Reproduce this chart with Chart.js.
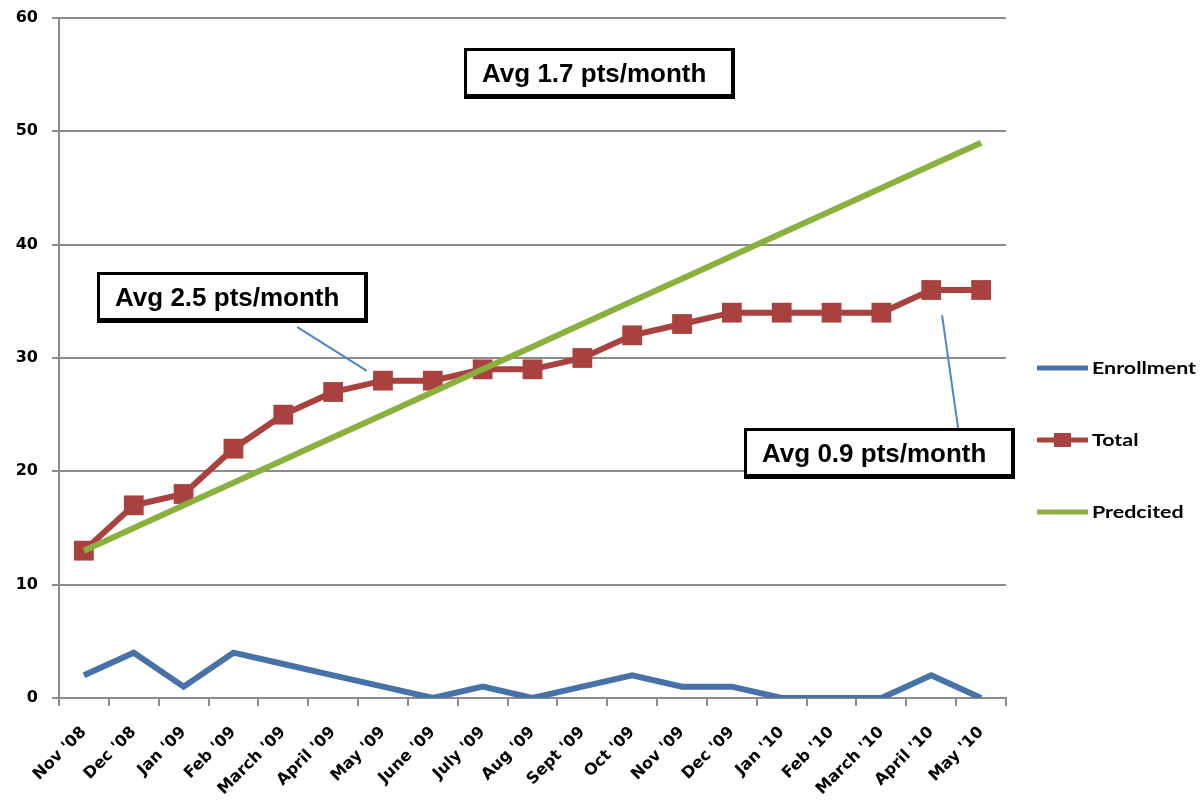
<!DOCTYPE html>
<html><head><meta charset="utf-8">
<script src="https://cdn.jsdelivr.net/npm/chart.js@4.4.1/dist/chart.umd.min.js"></script>
<style>html,body{margin:0;padding:0;background:#fff;overflow:hidden}#wrap{width:1201px;height:804px}</style>
</head><body><div id="wrap"><canvas id="c" width="1201" height="804"></canvas></div>
<script>
const categories = ["Nov '08","Dec '08","Jan '09","Feb '09","March '09","April '09","May '09","June '09","July '09","Aug '09","Sept '09","Oct '09","Nov '09","Dec '09","Jan '10","Feb '10","March '10","April '10","May '10"];
const enrollment = [2,4,1,4,3,2,1,0,1,0,1,2,1,1,0,0,0,2,0];
const total      = [13,17,18,22,25,27,28,28,29,29,30,32,33,34,34,34,34,36,36];
const predicted  = [13,15,17,19,21,23,25,27,29,31,33,35,37,39,41,43,45,47,49];
const yTicks = [0,10,20,30,40,50,60];
const seriesNames = ['Enrollment','Total','Predcited'];
const noteTexts = ['Avg 1.7 pts/month','Avg 2.5 pts/month','Avg 0.9 pts/month'];
// anchor of each note (category index, value) = box centre
const noteX = [10.34, 2.99, 15.97];
const noteY = [55.1, 35.34, 21.53];
// leader lines (category index, value)
const leaderFromX = [4.29, 17.22], leaderFromY = [32.7, 33.7];
const leaderToX   = [5.66, 17.54], leaderToY   = [28.9, 23.8];

const COLORS = ['#4672A8','#A9423F','#8AB03F'];
const GRID = '#8c8c8c';

const overlay = {
  id:'overlay',
  afterDraw(chart){
    const ctx = chart.ctx, xs = chart.scales.x, ys = chart.scales.y, ca = chart.chartArea;
    ctx.save();
    // leader lines
    ctx.strokeStyle = '#4F86C6'; ctx.lineWidth = 2; ctx.lineCap='round';
    for(let i=0;i<leaderFromX.length;i++){
      ctx.beginPath();
      ctx.moveTo(xs.getPixelForValue(leaderFromX[i]), ys.getPixelForValue(leaderFromY[i]));
      ctx.lineTo(xs.getPixelForValue(leaderToX[i]), ys.getPixelForValue(leaderToY[i]));
      ctx.stroke();
    }
    // note boxes
    const bw = 271, bh = 51;
    ctx.font = 'bold 26px "Liberation Sans", Arial, sans-serif';
    ctx.textBaseline = 'middle'; ctx.textAlign='left';
    for(let i=0;i<noteTexts.length;i++){
      const cx = xs.getPixelForValue(noteX[i]), cy = ys.getPixelForValue(noteY[i]);
      const x0 = Math.round(cx - bw/2), y0 = Math.round(cy - bh/2);
      ctx.fillStyle = '#fff'; ctx.fillRect(x0,y0,bw,bh);
      ctx.fillStyle = '#000';
      ctx.fillRect(x0,y0,bw,3); ctx.fillRect(x0,y0+bh-5,bw,5);
      ctx.fillRect(x0,y0,3,bh); ctx.fillRect(x0+bw-4,y0,4,bh);
      ctx.fillText(noteTexts[i], x0+18, cy+1);
    }
    // legend
    const lx = ca.right + 31, midY = (ca.top+ca.bottom)/2 + 82, gap = 72;
    ctx.font = 'bold 17px Lato, "Open Sans", sans-serif';
    ctx.textBaseline='middle';
    for(let i=0;i<3;i++){
      const y = midY + (i-1)*gap;
      ctx.strokeStyle = COLORS[i]; ctx.lineWidth = 5; ctx.lineCap='butt';
      ctx.beginPath(); ctx.moveTo(lx,y); ctx.lineTo(lx+51,y); ctx.stroke();
      if(i===1){ ctx.fillStyle = COLORS[1]; ctx.fillRect(lx+17,y-7,17,14); }
      ctx.fillStyle = '#000';
      ctx.save();
      ctx.translate(lx+55, y+1); ctx.scale(1.26,1);
      ctx.fillText(seriesNames[i], 0, 0);
      ctx.restore();
    }
    ctx.restore();
  }
};

new Chart(document.getElementById('c'), {
  type:'line',
  data:{
    labels: categories,
    datasets:[
      {label:seriesNames[0], data:enrollment, borderColor:COLORS[0], backgroundColor:COLORS[0], borderWidth:6, pointRadius:0, tension:0, order:2},
      {label:seriesNames[1], data:total, borderColor:COLORS[1], backgroundColor:COLORS[1], borderWidth:6, pointStyle:'rect', pointRadius:14, pointBorderWidth:0, tension:0, order:1},
      {label:seriesNames[2], data:predicted, borderColor:COLORS[2], backgroundColor:COLORS[2], borderWidth:6, pointRadius:0, tension:0, order:0}
    ]
  },
  options:{
    responsive:false, animation:false, devicePixelRatio:1,
    layout:{padding:{left:0,right:195,top:18,bottom:0}},
    plugins:{legend:{display:false}, tooltip:{enabled:false}},
    scales:{
      x:{
        offset:true,
        grid:{offset:true, drawOnChartArea:false, drawTicks:true, tickLength:8, color:GRID, lineWidth:2},
        border:{color:GRID, width:2},
        ticks:{minRotation:45, maxRotation:45, autoSkip:false, color:'#000', padding:17,
               font:{family:'"DejaVu Sans", Verdana, sans-serif', weight:'bold', size:16}},
        afterFit(s){ s.height = 106; s.paddingTop = 0; s.paddingBottom = 0; }
      },
      y:{
        min:0, max:60,
        afterBuildTicks(s){ s.ticks = yTicks.map(v=>({value:v})); },
        grid:{color:GRID, lineWidth:2, tickLength:7},
        border:{color:GRID, width:2},
        ticks:{color:'#000', padding:14, font:{family:'"DejaVu Sans", Verdana, sans-serif', weight:'bold', size:16}},
        afterFit(s){ s.width = 59; s.paddingTop = 0; s.paddingBottom = 0; }
      }
    }
  },
  plugins:[overlay]
});
</script>
</body></html>
